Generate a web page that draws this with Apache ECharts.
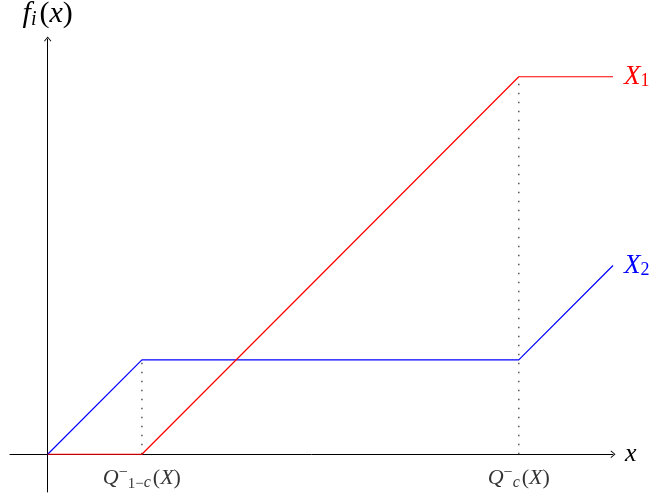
<!DOCTYPE html>
<html>
<head>
<meta charset="utf-8">
<script src="https://cdn.jsdelivr.net/npm/echarts@6/dist/echarts.min.js"></script>
<style>
  html, body { margin: 0; padding: 0; background: #fff; }
  #chart { width: 658px; height: 500px; }
</style>
</head>
<body>
<div id="chart"></div>
<script>
// piecewise-linear functions f1 (X1) and f2 (X2), in units of the quantile spacing
var x1Points = [[0, 0], [1, 0], [5, 4], [6, 4]];
var x2Points = [[0, 0], [1, 1], [5, 1], [6, 2]];
// dotted guides at the two quantiles
var guideLow = [[1, 0], [1, 1]];
var guideHigh = [[5, 0], [5, 4]];
// quantile labels under the x axis
var quantilePoints = [[1, 0], [5, 0]];
var quantileLabels = ['{q|Q}{sup|\u2212}{sub|1\u2212}{subi|c}{r|(}{q|X}{r|)}', '{q|Q}{sup|\u2212}{subi|c}{r|(}{q|X}{r|)}'];

var serif = '"Liberation Serif", "DejaVu Serif", serif';
var arrow = 'path://M5,0 L10,6 L9,6.8 L5,1.6 L1,6.8 L0,6 Z';

var myChart = echarts.init(document.getElementById('chart'));
var option = {
  animation: false,
  grid: { left: 10, right: 45, top: 39, bottom: 8, containLabel: false, outerBoundsMode: 'none' },
  xAxis: {
    type: 'value',
    min: -0.4,
    max: 6,
    name: '{i|x}',
    nameLocation: 'end',
    nameGap: 12,
    nameTextStyle: { rich: { i: { fontFamily: serif, fontStyle: 'italic', fontSize: 26, color: '#000' } } },
    axisLine: { onZero: true, lineStyle: { color: '#000', width: 1 }, symbol: ['none', arrow], symbolSize: [8, 5] },
    axisTick: { show: false },
    splitLine: { show: false },
    axisLabel: { show: false }
  },
  yAxis: {
    type: 'value',
    min: -0.4,
    max: 4.4,
    name: '{f|f}{s|i}{r|(}{f|x}{r|)}',
    nameLocation: 'end',
    nameGap: 9,
    nameTextStyle: {
      align: 'center',
      rich: {
        f: { fontFamily: serif, fontStyle: 'italic', fontSize: 30, color: '#000' },
        r: { fontFamily: serif, fontSize: 30, color: '#000' },
        s: { fontFamily: serif, fontStyle: 'italic', fontSize: 20, color: '#000', verticalAlign: 'bottom', padding: [12, 3, 0, 0] }
      }
    },
    axisLine: { onZero: true, lineStyle: { color: '#000', width: 1 }, symbol: ['none', arrow], symbolSize: [8, 5] },
    axisTick: { show: false },
    splitLine: { show: false },
    axisLabel: { show: false }
  },
  series: [
    {
      type: 'scatter', data: quantilePoints, symbolSize: 0, silent: true, z: 1,
      label: {
        show: true, position: 'bottom', distance: 11,
        formatter: function (p) { return quantileLabels[p.dataIndex]; },
        rich: {
          q: { fontFamily: serif, fontStyle: 'italic', fontSize: 22, color: '#000' },
          r: { fontFamily: serif, fontSize: 22, color: '#000' },
          sup: { fontFamily: serif, fontSize: 16, color: '#000', verticalAlign: 'top', padding: [0, 0, 10, 0] },
          sub: { fontFamily: serif, fontSize: 15, color: '#000', verticalAlign: 'bottom', padding: [8, 0, 0, 0] },
          subi: { fontFamily: serif, fontStyle: 'italic', fontSize: 16, color: '#000', verticalAlign: 'bottom', padding: [8, 2, 0, 0] }
        }
      }
    },
    {
      type: 'line', data: guideLow, symbol: 'none', silent: true,
      lineStyle: { color: '#555', width: 1.5, type: [1.5, 7.5] }
    },
    {
      type: 'line', data: guideHigh, symbol: 'none', silent: true,
      lineStyle: { color: '#555', width: 1.5, type: [1.5, 7.5] }
    },
    {
      type: 'line', data: x2Points, symbol: 'none', z: 3,
      lineStyle: { color: '#0000ff', width: 1.2 },
      endLabel: {
        show: true, distance: 11, formatter: '{x|X}{n|2}',
        rich: {
          x: { fontFamily: serif, fontStyle: 'italic', fontSize: 27, color: '#0000ff' },
          n: { fontFamily: serif, fontSize: 18, color: '#0000ff', verticalAlign: 'bottom', padding: [10, 0, 0, 0] }
        }
      }
    },
    {
      type: 'line', data: x1Points, symbol: 'none', z: 3,
      lineStyle: { color: '#ff0000', width: 1.2 },
      endLabel: {
        show: true, distance: 11, formatter: '{x|X}{n|1}',
        rich: {
          x: { fontFamily: serif, fontStyle: 'italic', fontSize: 27, color: '#ff0000' },
          n: { fontFamily: serif, fontSize: 18, color: '#ff0000', verticalAlign: 'bottom', padding: [10, 0, 0, 0] }
        }
      }
    }
  ]
};
option && myChart.setOption(option);
</script>
</body>
</html>
